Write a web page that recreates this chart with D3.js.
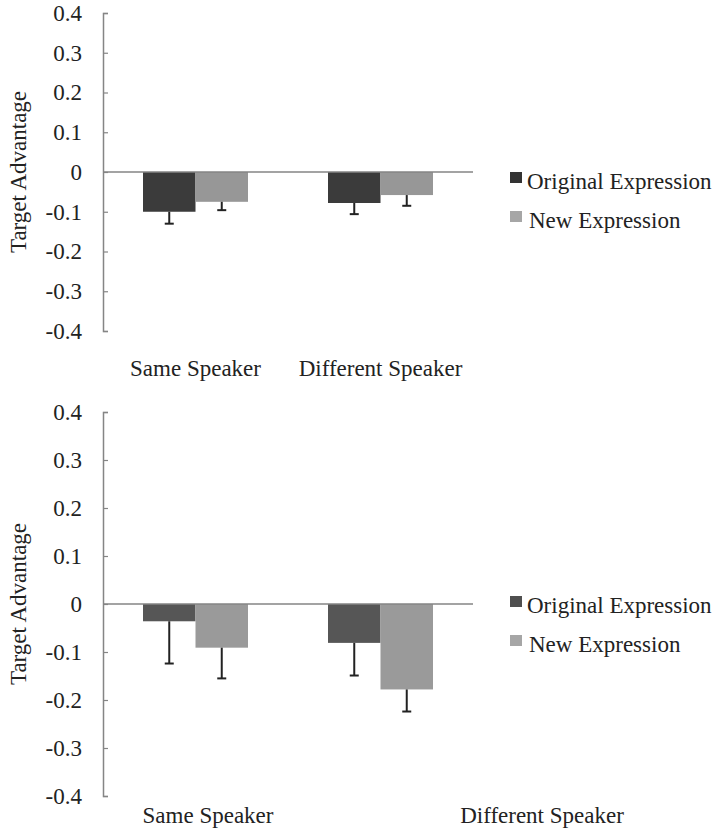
<!DOCTYPE html>
<html>
<head>
<meta charset="utf-8">
<script src="https://cdn.jsdelivr.net/npm/d3@7"></script>
<style>
  body { margin: 0; background: #fff; }
  svg { display: block; }
</style>
</head>
<body>
<div id="chart"></div>
<script>
// Data
const categories = ["Same Speaker", "Different Speaker"];
const seriesNames = ["Original Expression", "New Expression"];
const yTicks = [0.4, 0.3, 0.2, 0.1, 0, -0.1, -0.2, -0.3, -0.4];

// top panel
const topOriginal = [-0.100, -0.078];
const topOriginalErr = [0.030, 0.028];
const topNew = [-0.075, -0.058];
const topNewErr = [0.021, 0.027];

// bottom panel
const bottomOriginal = [-0.036, -0.081];
const bottomOriginalErr = [0.088, 0.068];
const bottomNew = [-0.091, -0.178];
const bottomNewErr = [0.064, 0.046];

const width = 716, height = 833;
const serif = "Liberation Serif, Times New Roman, serif";
const svg = d3.select("#chart").append("svg")
    .attr("width", width)
    .attr("height", height)
    .attr("font-family", serif);

const axisColor = "#858585";

function drawPanel(opts) {
    const g = svg.append("g");

    const y = d3.scaleLinear().domain([-0.4, 0.4]).range(opts.yRange);
    const x0 = d3.scaleBand().domain(categories).range([103, 473]).padding(0);
    const x1 = d3.scaleBand().domain(seriesNames).range([0, x0.bandwidth()])
        .paddingInner(0).paddingOuter(0.762);

    const rows = categories.map((c, i) => ({
        cat: c,
        vals: [
            { s: seriesNames[0], v: opts.orig[i], e: opts.origErr[i] },
            { s: seriesNames[1], v: opts.nw[i], e: opts.nwErr[i] }
        ]
    }));

    // y axis
    const yAxis = d3.axisLeft(y)
        .tickValues(yTicks)
        .tickSizeInner(-5)
        .tickSizeOuter(-5)
        .tickPadding(21)
        .tickFormat(d => d === 0 ? "0" : d.toFixed(1));

    const ax = g.append("g")
        .attr("transform", "translate(103,0)")
        .call(yAxis)
        .attr("font-family", serif)
        .attr("font-size", 23);
    ax.select(".domain").attr("stroke", axisColor).attr("stroke-width", 1.5);
    ax.selectAll(".tick line").attr("stroke", axisColor).attr("stroke-width", 1.2);
    ax.selectAll(".tick text").attr("fill", "#222");

    // y title
    const mid = (opts.yRange[0] + opts.yRange[1]) / 2;
    g.append("text")
        .attr("transform", `translate(26,${mid}) rotate(-90)`)
        .attr("text-anchor", "middle")
        .attr("font-size", 23)
        .attr("fill", "#222")
        .text("Target Advantage");

    // bars
    const groups = g.selectAll("g.cat")
        .data(rows)
        .join("g")
        .attr("class", "cat")
        .attr("transform", d => `translate(${x0(d.cat)},0)`);

    groups.selectAll("rect")
        .data(d => d.vals)
        .join("rect")
        .attr("x", d => x1(d.s))
        .attr("width", x1.bandwidth())
        .attr("y", d => Math.min(y(0), y(d.v)))
        .attr("height", d => Math.abs(y(d.v) - y(0)))
        .attr("fill", (d, i) => opts.colors[i]);

    // error bars (downward only)
    groups.selectAll("line.err")
        .data(d => d.vals)
        .join("line")
        .attr("class", "err")
        .attr("x1", d => x1(d.s) + x1.bandwidth() / 2)
        .attr("x2", d => x1(d.s) + x1.bandwidth() / 2)
        .attr("y1", d => y(d.v))
        .attr("y2", d => y(d.v - d.e))
        .attr("stroke", "#222")
        .attr("stroke-width", 2);

    groups.selectAll("line.cap")
        .data(d => d.vals)
        .join("line")
        .attr("class", "cap")
        .attr("x1", d => x1(d.s) + x1.bandwidth() / 2 - 4.5)
        .attr("x2", d => x1(d.s) + x1.bandwidth() / 2 + 4.5)
        .attr("y1", d => y(d.v - d.e))
        .attr("y2", d => y(d.v - d.e))
        .attr("stroke", "#222")
        .attr("stroke-width", 2);

    // zero line
    g.append("line")
        .attr("x1", 103).attr("x2", 473)
        .attr("y1", y(0)).attr("y2", y(0))
        .attr("stroke", axisColor)
        .attr("stroke-width", 1.5);

    // category labels
    const labelX = opts.labelX || (c => x0(c) + x0.bandwidth() / 2);
    g.selectAll("text.cat-label")
        .data(categories)
        .join("text")
        .attr("class", "cat-label")
        .attr("x", d => labelX(d))
        .attr("y", opts.labelY)
        .attr("text-anchor", "middle")
        .attr("font-size", 23)
        .attr("fill", "#222")
        .text(d => d);

    // legend
    const legend = g.append("g")
        .attr("transform", `translate(510,${opts.legendY})`);
    const items = legend.selectAll("g")
        .data(seriesNames)
        .join("g")
        .attr("transform", (d, i) => `translate(0,${i * 39})`);
    items.append("rect")
        .attr("x", 0)
        .attr("y", -17)
        .attr("width", 12)
        .attr("height", 11)
        .attr("fill", (d, i) => opts.legendColors[i]);
    items.append("text")
        .attr("x", (d, i) => i === 0 ? 17 : 19)
        .attr("y", 0)
        .attr("font-size", 23)
        .attr("fill", "#222")
        .text(d => d);
}

drawPanel({
    yRange: [331, 13],
    orig: topOriginal, origErr: topOriginalErr,
    nw: topNew, nwErr: topNewErr,
    colors: ["#3b3b3b", "#979797"],
    legendColors: ["#333333", "#a6a6a6"],
    labelY: 376,
    legendY: 189
});

const bottomLabelX = d3.scalePoint().domain(categories).range([208, 542]);
drawPanel({
    yRange: [796, 412],
    orig: bottomOriginal, origErr: bottomOriginalErr,
    nw: bottomNew, nwErr: bottomNewErr,
    colors: ["#565656", "#9a9a9a"],
    legendColors: ["#4f4f4f", "#a6a6a6"],
    labelY: 823,
    labelX: c => bottomLabelX(c),
    legendY: 613
});
</script>
</body>
</html>
